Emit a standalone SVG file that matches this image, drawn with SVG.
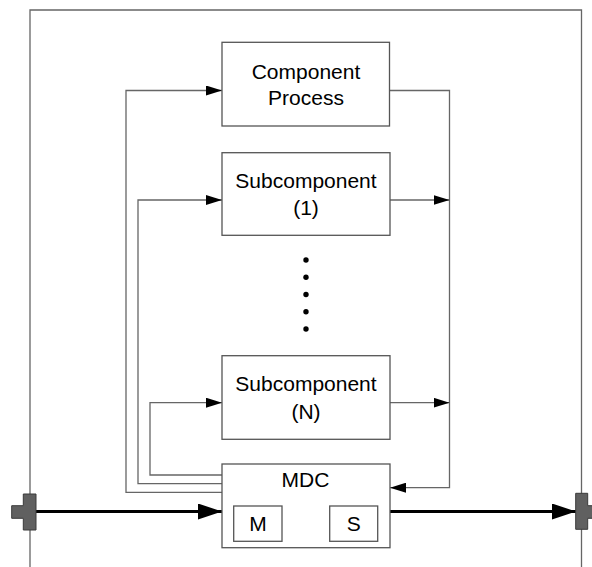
<svg xmlns="http://www.w3.org/2000/svg" width="592" height="567" viewBox="0 0 592 567">
<defs>
<style>
.box{fill:#fff;stroke:#555;stroke-width:1.3}
.ln{fill:none;stroke:#666;stroke-width:1.3}
.thick{fill:none;stroke:#000;stroke-width:3}
.t{font-family:"Liberation Sans",Arial,sans-serif;font-size:21px;fill:#000;text-anchor:middle}
.port{fill:#606060;stroke:#3a3a3a;stroke-width:1}
</style>
<marker id="ah" markerUnits="userSpaceOnUse" markerWidth="16" markerHeight="10" refX="16" refY="5" orient="auto">
<path d="M0,0 L16,5 L0,10 Z" fill="#000"/>
</marker>
<marker id="ahb" markerUnits="userSpaceOnUse" markerWidth="24" markerHeight="16" refX="24" refY="8" orient="auto">
<path d="M0,0 L24,8 L0,16 Z" fill="#000"/>
</marker>
</defs>
<rect width="592" height="567" fill="#fff"/>
<g id="frame">
<path d="M30,567 V10 H581.5 V567" fill="none" stroke="#666" stroke-width="1.3"/>
</g>
<g id="connectors">
<path class="ln" d="M222,492.3 H126 V90.5 H222" marker-end="url(#ah)"/>
<path class="ln" d="M222,483.7 H138 V200 H222" marker-end="url(#ah)"/>
<path class="ln" d="M222,475 H150 V402.7 H222" marker-end="url(#ah)"/>
<path class="ln" d="M390,90.5 H449.5 V487.7 H390" marker-end="url(#ah)"/>
<path class="ln" d="M390,200 H449.5" marker-end="url(#ah)"/>
<path class="ln" d="M390,402.7 H449.5" marker-end="url(#ah)"/>
<path class="thick" d="M36,511.5 H222" marker-end="url(#ahb)"/>
<path class="thick" d="M390,511.5 H576" marker-end="url(#ahb)"/>
</g>
<g id="component-process">
<rect class="box" x="222" y="42.3" width="167.5" height="83.7"/>
<text class="t" x="306" y="78.5">Component</text>
<text class="t" x="306" y="105">Process</text>
</g>
<g id="subcomponent-1">
<rect class="box" x="222" y="152.7" width="168" height="82.6"/>
<text class="t" x="306" y="188">Subcomponent</text>
<text class="t" x="306" y="215">(1)</text>
</g>
<g id="ellipsis">
<circle cx="306" cy="260" r="2.7" fill="#000"/>
<circle cx="306" cy="277.3" r="2.7" fill="#000"/>
<circle cx="306" cy="294.5" r="2.7" fill="#000"/>
<circle cx="306" cy="311.7" r="2.7" fill="#000"/>
<circle cx="306" cy="329" r="2.7" fill="#000"/>
</g>
<g id="subcomponent-n">
<rect class="box" x="222" y="355.7" width="168" height="83.6"/>
<text class="t" x="306" y="391">Subcomponent</text>
<text class="t" x="306" y="418.5">(N)</text>
</g>
<g id="mdc">
<rect class="box" x="222" y="464" width="168" height="83.7"/>
<text class="t" x="305.5" y="487">MDC</text>
<rect class="box" x="233.7" y="506" width="48.3" height="35.3"/>
<text class="t" x="258" y="531">M</text>
<rect class="box" x="329.7" y="506" width="48" height="35.3"/>
<text class="t" x="353.7" y="531">S</text>
</g>
<g id="port-left">
<path class="port" d="M23.3,494 H36 V530 H23.3 V518.3 H11.7 V505.7 H23.3 Z"/>
</g>
<g id="port-right">
<path class="port" d="M575.7,493.3 H587.7 V505.7 H593 V518.3 H587.7 V529.3 H575.7 Z"/>
</g>
</svg>
